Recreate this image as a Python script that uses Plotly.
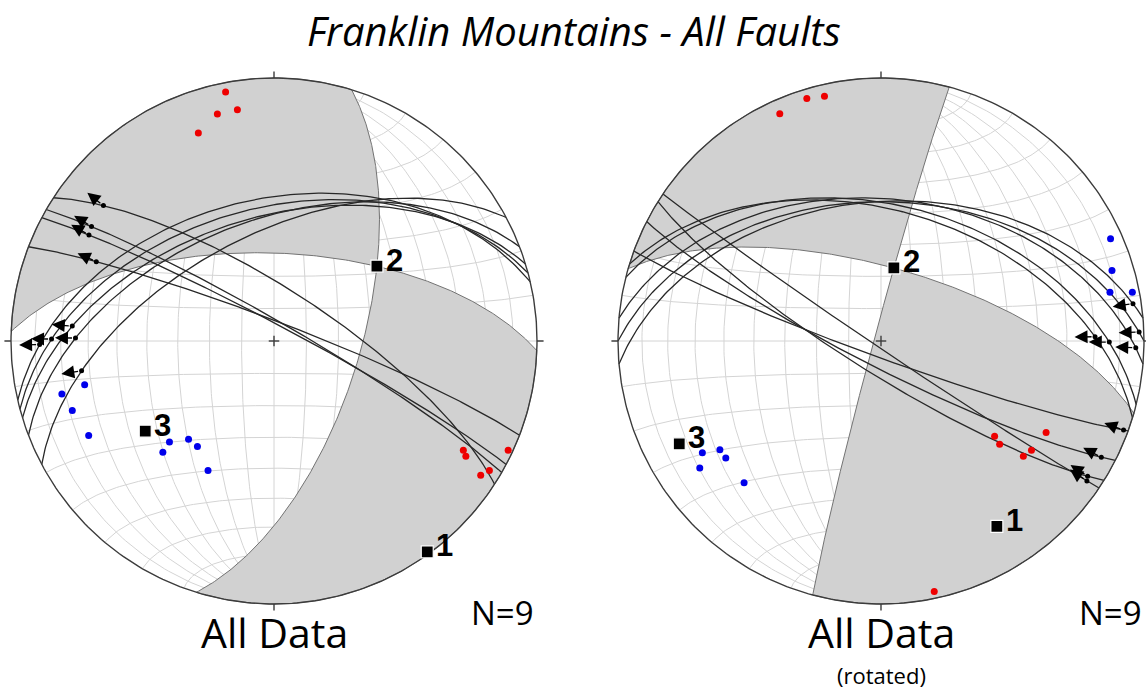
import numpy as np
import plotly.graph_objects as go

# ---------------- data (degrees, lower-hemisphere equal-area) ----------------
# principal stress axes 1, 2, 3 : trend / plunge
SIG_L_TREND = [144, 54, 235]
SIG_L_PLUNGE = [1, 50, 40]
SIG_R_TREND = [148, 10, 243]
SIG_R_PLUNGE = [18, 67, 15]
SIG_LABELS = ["1", "2", "3"]

# fault planes : dip direction / dip
FAULT_L_DIPDIR = [33, 30, 28, 21, 332, 339, 343, 345, 347]
FAULT_L_DIP = [74, 84, 85, 84, 57, 52, 51, 48, 45]
FAULT_R_DIPDIR = [214, 212, 207, 200, 355, 0, 5, 14, 17]
FAULT_R_DIP = [88, 80, 82, 85, 46, 46, 45, 47, 49]

# slip lineations : trend / plunge, arrow sense (+1 outward, -1 inward)
LIN_L_TREND = [306, 304, 300, 293, 261, 269, 272, 270, 268]
LIN_L_PLUNGE = [19, 19, 20, 27, 27, 27, 26, 17, 13]
LIN_L_SENSE = [1, 1, 1, 1, 1, 1, 1, 1, 1]
LIN_R_TREND = [123, 122, 117, 110, 81, 89, 92, 90, 87]
LIN_R_PLUNGE = [6, 7, 6, 2, 3, 3, 4, 14, 18]
LIN_R_SENSE = [-1, -1, -1, -1, -1, -1, -1, -1, -1]

# P axes (red) and T axes (blue)
P_L_TREND = [349, 346, 351, 340, 120, 121, 115, 121, 123]
P_L_PLUNGE = [4, 12, 12, 17, 18, 16, 2, 5, 7]
T_L_TREND = [257, 256, 251, 243, 226, 225, 221, 216, 207]
T_L_PLUNGE = [27, 18, 20, 22, 44, 40, 49, 49, 44]
P_R_TREND = [336, 343, 347, 130, 131, 119, 126, 129, 168]
P_R_PLUNGE = [6, 4, 5, 43, 40, 29, 30, 31, 3]
T_R_TREND = [66, 73, 78, 79, 238, 236, 233, 235, 224]
T_R_PLUNGE = [5, 9, 12, 3, 21, 27, 27, 17, 26]

TITLE = "Franklin Mountains - All Faults"
NET_TITLES = ["All Data", "All Data"]
NET_SUBTITLES = ["", "(rotated)"]
N_TEXT = ["N=9", "N=9"]

# ---------------- layout constants ----------------
W, H = 1146, 691
NET_CX = [274, 881]
NET_CY = 341
NET_R = 263
GRID_COLOR = "rgb(212,212,212)"
GRAY_FILL = "rgb(209,209,209)"
LINE_COLOR = "rgb(40,40,40)"


def vec(trend, plunge):
    t, p = np.radians(trend), np.radians(plunge)
    return np.array([np.sin(t) * np.cos(p), np.cos(t) * np.cos(p), -np.sin(p)])


def lower(v):
    return -v if v[2] > 1e-9 else v


def proj(V):
    V = np.atleast_2d(np.asarray(V, float)).copy()
    flip = V[:, 2] > 1e-9
    V[flip] = -V[flip]
    x, y, z = V[:, 0], V[:, 1], V[:, 2]
    h = np.hypot(x, y)
    r = np.sqrt(np.clip(1 + z, 0, 2))
    sc = np.divide(r, h, out=np.zeros_like(r), where=h > 1e-12)
    return x * sc, y * sc


def slerp(a, b, n):
    om = np.arccos(np.clip(a @ b, -1, 1))
    t = np.linspace(0, 1, n)
    if om < 1e-9:
        return np.outer(np.ones(n), a)
    return (np.outer(np.sin((1 - t) * om), a) + np.outer(np.sin(t * om), b)) / np.sin(om)


def great_circle(dd, dip, n=181):
    s = vec(dd - 90, 0)
    d = vec(dd, dip)
    th = np.linspace(0, np.pi, n)
    return np.outer(np.cos(th), s) + np.outer(np.sin(th), d)


def small_circle_ns(alpha, n=121):
    a = np.array([0.0, 1.0, 0.0])
    e = np.array([1.0, 0.0, 0.0])
    dn = np.array([0.0, 0.0, -1.0])
    al = np.radians(alpha)
    ph = np.linspace(0, np.pi, n)
    return (np.cos(al) * a)[None, :] + np.sin(al) * (np.outer(np.cos(ph), e) + np.outer(np.sin(ph), dn))


def join(segs):
    xs, ys = [], []
    for x, y in segs:
        xs += list(x) + [None]
        ys += list(y) + [None]
    return xs, ys


def dihedra(tr, pl):
    e2 = lower(vec(tr[1], pl[1]))
    e1 = vec(tr[0], pl[0])
    e1 = e1 - (e1 @ e2) * e2
    e1 /= np.linalg.norm(e1)
    e3 = np.cross(e1, e2)
    polys = []
    for sg in (1, -1):
        up = sg * (e1 + e3) / np.sqrt(2)
        um = sg * (e1 - e3) / np.sqrt(2)

        def arc(u):
            ps = np.arctan2(-e2[2], u[2])
            ph = np.linspace(0, ps, 150)
            pts = np.outer(np.cos(ph), e2) + np.outer(np.sin(ph), u)
            pts[-1, 2] = 0.0
            pts[-1] /= np.linalg.norm(pts[-1])
            return pts
        a1, a2 = arc(up), arc(um)
        eq = slerp(a1[-1], a2[-1], 150)
        eq[:, 2] = 0.0
        pts = np.vstack([a1, eq, a2[::-1]])
        polys.append(proj(pts))
    return polys


fig = go.Figure()
layout = dict(width=W, height=H, margin=dict(l=0, r=0, t=0, b=0),
              paper_bgcolor="white", plot_bgcolor="rgba(0,0,0,0)", showlegend=False)
annotations = []

nets = [
    dict(sig=(SIG_L_TREND, SIG_L_PLUNGE), fault=(FAULT_L_DIPDIR, FAULT_L_DIP),
         lin=(LIN_L_TREND, LIN_L_PLUNGE, LIN_L_SENSE), P=(P_L_TREND, P_L_PLUNGE), T=(T_L_TREND, T_L_PLUNGE)),
    dict(sig=(SIG_R_TREND, SIG_R_PLUNGE), fault=(FAULT_R_DIPDIR, FAULT_R_DIP),
         lin=(LIN_R_TREND, LIN_R_PLUNGE, LIN_R_SENSE), P=(P_R_TREND, P_R_PLUNGE), T=(T_R_TREND, T_R_PLUNGE)),
]

for k, net in enumerate(nets):
    cx, cy, R = NET_CX[k], NET_CY, NET_R
    pad = 1.035
    x0, x1 = max(0, cx - pad * R), min(W, cx + pad * R)
    y0, y1 = max(0, cy - pad * R), min(H, cy + pad * R)
    sfx = "" if k == 0 else "2"
    xa, ya = "x" + sfx, "y" + sfx
    layout["xaxis" + sfx] = dict(domain=[x0 / W, x1 / W], range=[(x0 - cx) / R, (x1 - cx) / R],
                                 visible=False, fixedrange=True, anchor=ya)
    layout["yaxis" + sfx] = dict(domain=[1 - y1 / H, 1 - y0 / H], range=[(cy - y1) / R, (cy - y0) / R],
                                 visible=False, fixedrange=True, anchor=xa)
    common = dict(xaxis=xa, yaxis=ya, hoverinfo="skip", cliponaxis=False)

    # --- Schmidt net grid ---
    segs = []
    for dip in range(10, 91, 10):
        segs.append(proj(great_circle(90, dip)))
        if dip < 90:
            segs.append(proj(great_circle(270, dip)))
    for al in range(10, 180, 10):
        if al == 90:
            segs.append(proj(great_circle(0, 90)))
        else:
            segs.append(proj(small_circle_ns(al)))
    gx, gy = join(segs)
    fig.add_trace(go.Scatter(x=gx, y=gy, mode="lines", line=dict(color=GRID_COLOR, width=1), **common))

    # --- compressional dihedra (grey) ---
    for px, py in dihedra(*net["sig"]):
        fig.add_trace(go.Scatter(x=list(px), y=list(py), mode="lines", fill="toself", fillcolor=GRAY_FILL,
                                 line=dict(color="rgb(115,115,115)", width=1), **common))

    # --- fault great circles ---
    dds, dips = net["fault"]
    fx, fy = join([proj(great_circle(d, p)) for d, p in zip(dds, dips)])
    fig.add_trace(go.Scatter(x=fx, y=fy, mode="lines", line=dict(color=LINE_COLOR, width=1.3), **common))

    # --- primitive, ticks and centre cross ---
    th = np.linspace(0, 2 * np.pi, 361)
    segs = [(np.cos(th), np.sin(th))]
    tk = 0.025
    for ux, uy in [(0, 1), (0, -1), (1, 0), (-1, 0)]:
        segs.append((np.array([ux, ux * (1 + tk)]), np.array([uy, uy * (1 + tk)])))
    c = 0.02
    segs.append((np.array([-c, c]), np.array([0, 0])))
    segs.append((np.array([0, 0]), np.array([-c, c])))
    px, py = join(segs)
    fig.add_trace(go.Scatter(x=px, y=py, mode="lines", line=dict(color="rgb(60,60,60)", width=1.4), **common))

    # --- P and T axes ---
    for (tr, pl), col in [(net["P"], "rgb(238,0,0)"), (net["T"], "rgb(0,0,235)")]:
        x, y = proj(np.array([vec(t, p) for t, p in zip(tr, pl)]))
        fig.add_trace(go.Scatter(x=x, y=y, mode="markers",
                                 marker=dict(color=col, size=7, line=dict(width=0)), **common))

    # --- lineations with slip arrows ---
    lt, lp, ls = net["lin"]
    lx, ly = [], []
    for d, p, t, pl, s in zip(dds, dips, lt, lp, ls):
        n = vec(d + 180, 90 - p)
        v = vec(t, pl)
        v = v - (v @ n) * n
        v = lower(v / np.linalg.norm(v))
        x, y = proj(v)
        x, y = float(x[0]), float(y[0])
        lx.append(x)
        ly.append(y)
        rr = np.hypot(x, y)
        L = 0.078
        tx, ty = x + s * L * x / rr, y + s * L * y / rr
        annotations.append(dict(x=tx, y=ty, ax=x, ay=y, xref=xa, yref=ya, axref=xa, ayref=ya,
                                text="", showarrow=True, arrowhead=2, arrowsize=2.0, arrowwidth=1.3,
                                arrowcolor="black", standoff=0, startstandoff=2))
    fig.add_trace(go.Scatter(x=lx, y=ly, mode="markers", marker=dict(color="black", size=5), **common))

    # --- stress axes squares and labels ---
    tr, pl = net["sig"]
    sx, sy = proj(np.array([vec(t, p) for t, p in zip(tr, pl)]))
    fig.add_trace(go.Scatter(x=sx, y=sy, mode="markers",
                             marker=dict(symbol="square", color="black", size=12,
                                         line=dict(color="white", width=1.2)), **common))
    for lab, x, y in zip(SIG_LABELS, sx, sy):
        annotations.append(dict(x=x, y=y, xref=xa, yref=ya, text="<b>%s</b>" % lab, showarrow=False,
                                xanchor="left", yanchor="middle", xshift=7, yshift=6,
                                font=dict(family="Liberation Sans", size=31, color="black")))

    # --- texts below net ---
    annotations.append(dict(x=cx / W, y=1 - 632 / H, xref="paper", yref="paper", text=NET_TITLES[k],
                            showarrow=False, xanchor="center", yanchor="middle",
                            font=dict(family="Open Sans", size=41, color="black")))
    annotations.append(dict(x=(cx + 229) / W, y=1 - 612 / H, xref="paper", yref="paper", text=N_TEXT[k],
                            showarrow=False, xanchor="center", yanchor="middle",
                            font=dict(family="Open Sans", size=33, color="black")))
    if NET_SUBTITLES[k]:
        annotations.append(dict(x=cx / W, y=1 - 675 / H, xref="paper", yref="paper", text=NET_SUBTITLES[k],
                                showarrow=False, xanchor="center", yanchor="middle",
                                font=dict(family="Open Sans", size=22, color="black")))

annotations.append(dict(x=574 / W, y=1 - 30 / H, xref="paper", yref="paper", text=TITLE,
                        showarrow=False, xanchor="center", yanchor="middle",
                        font=dict(family="Open Sans", size=40, color="black", style="italic")))

layout["annotations"] = annotations
fig.update_layout(**layout)
fig.write_html("out.html")
